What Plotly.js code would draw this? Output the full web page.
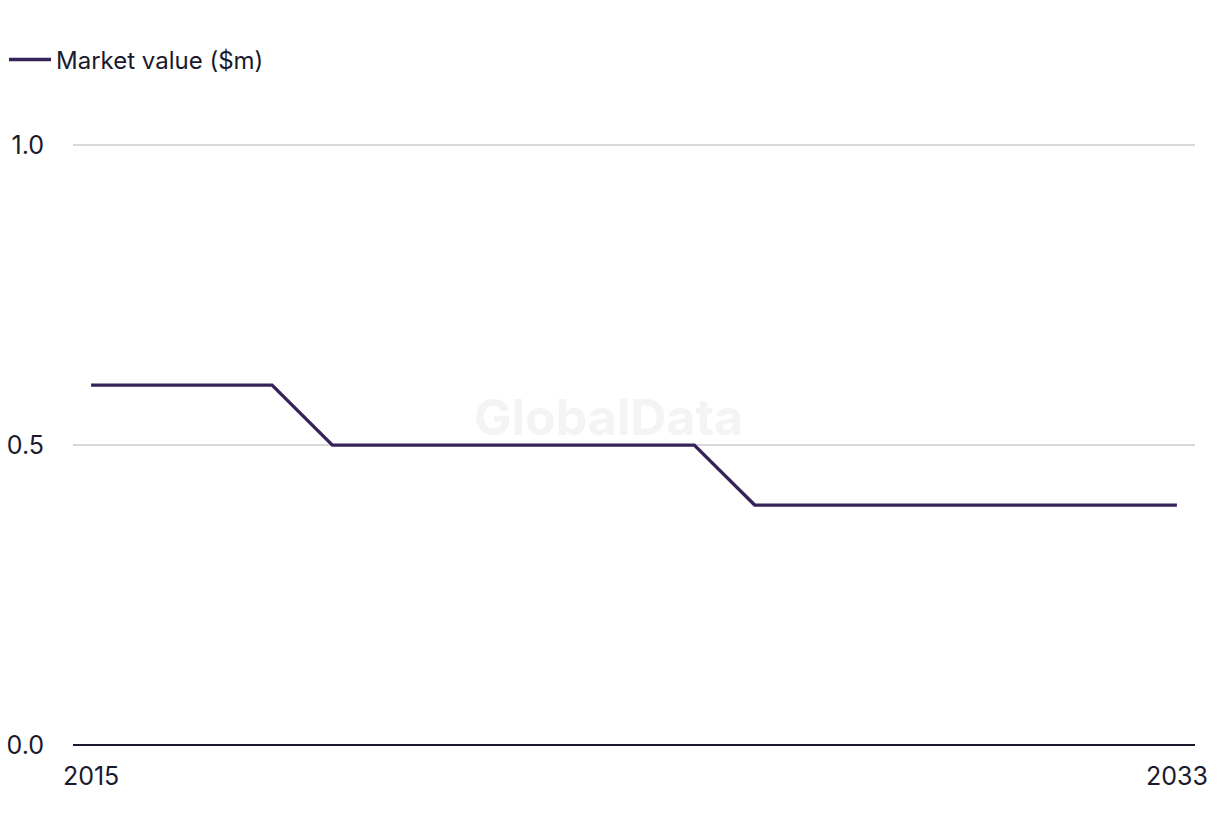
<!DOCTYPE html>
<html>
<head>
<meta charset="utf-8">
<script src="https://cdn.plot.ly/plotly-3.0.1.min.js"></script>
<style>html,body{margin:0;padding:0;background:#fff;}#chart{width:1220px;height:836px;}</style>
</head>
<body>
<div id="chart"></div>
<script>
const years = [2015,2016,2017,2018,2019,2020,2021,2022,2023,2024,2025,2026,2027,2028,2029,2030,2031,2032,2033];
const marketValue = [0.6,0.6,0.6,0.6,0.5,0.5,0.5,0.5,0.5,0.5,0.5,0.4,0.4,0.4,0.4,0.4,0.4,0.4,0.4];
const seriesName = 'Market value ($m)';
const xTicks = [2015, 2033];
const yTicks = [0, 0.5, 1.0];
const yTickLabels = ['0.0','0.5','1.0'];

const trace = {
  x: years, y: marketValue, type: 'scatter', mode: 'lines', name: seriesName,
  line: {color: '#36235a', width: 3.4}
};
const layout = {
  width: 1220, height: 836,
  margin: {l: 73, r: 25, t: 144, b: 91, autoexpand: false},
  paper_bgcolor: '#fff', plot_bgcolor: '#fff',
  font: {family: 'Inter, Roboto, sans-serif', size: 24, color: '#1a1a2e'},
  showlegend: true,
  legend: {x: -0.0615, y: 1.14, xanchor: 'left', yanchor: 'middle', orientation: 'h', itemwidth: 42, font: {size: 24, color: '#1a1a2e'}, bgcolor: 'rgba(0,0,0,0)'},
  xaxis: {range: [2014.7, 2033.3], tickvals: xTicks, ticktext: xTicks.map(String), tickfont: {size: 25}, showgrid: false, zeroline: false, showline: false, ticks: '', ticklabelstandoff: 14, automargin: false, fixedrange: true},
  yaxis: {range: [0, 1.002], tickvals: yTicks, ticktext: yTickLabels, tickfont: {size: 25}, showgrid: true, gridcolor: '#d9d9d9', gridwidth: 1.5, zeroline: true, zerolinecolor: '#1a1a2e', zerolinewidth: 2, showline: false, ticks: '', ticklabelstandoff: 28, automargin: false, fixedrange: true},
  annotations: [{text: '<b>GlobalData</b>', xref: 'paper', yref: 'paper', x: 0.477, y: 0.545, showarrow: false, font: {size: 50, color: '#f4f4f4', family: 'Inter, Roboto, sans-serif'}}]
};
Plotly.newPlot('chart', [trace], layout, {displayModeBar: false, staticPlot: true});
</script>
</body>
</html>
